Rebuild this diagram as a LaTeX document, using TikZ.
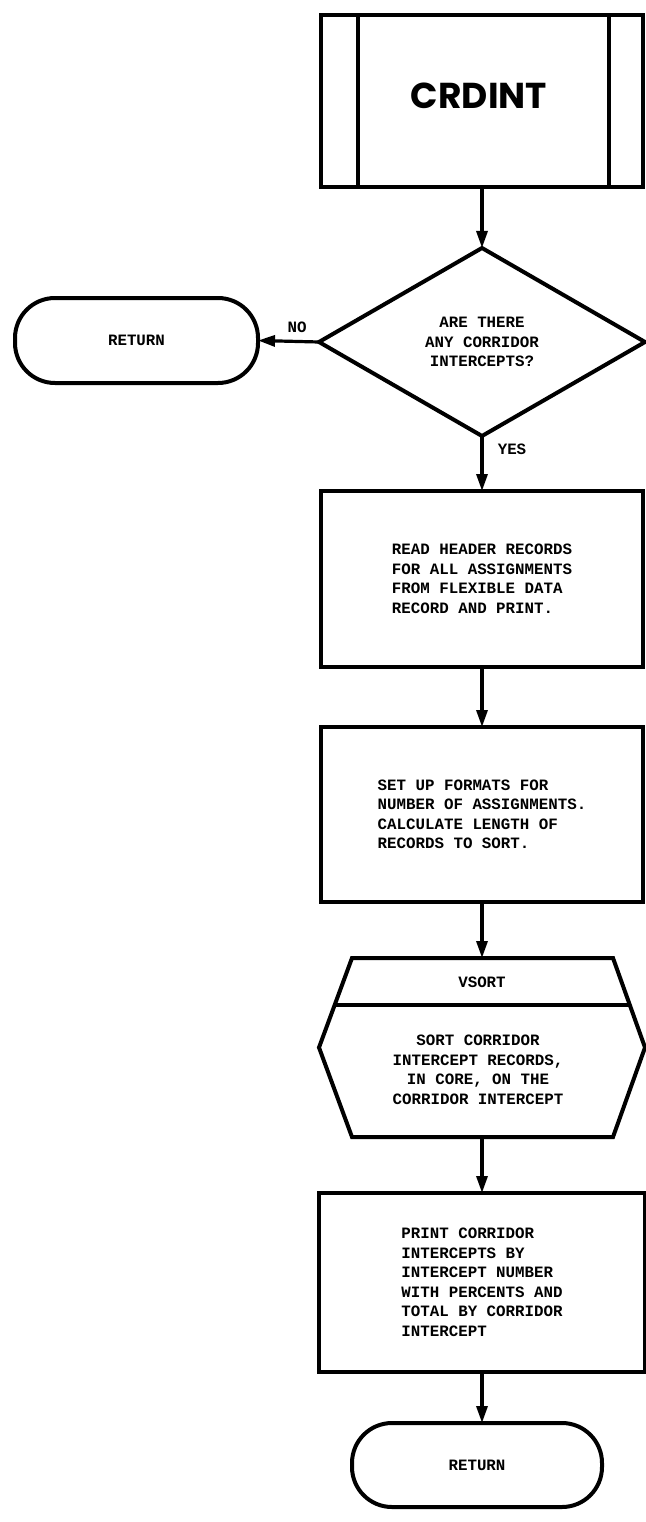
\documentclass[tikz,border=0pt]{standalone}
\usepackage{fontspec}
\setmainfont{Liberation Serif}
\newfontfamily\monob{Liberation Mono}
\newfontfamily\titlefont{Poppins}
\usetikzlibrary{shapes.geometric,arrows.meta}
\tikzset{
  every node/.style={font=\monob\bfseries\fontsize{15.8}{19.5}\selectfont},
  shape line/.style={draw, line width=4pt, outer sep=0pt, inner sep=0pt},
  procbox/.style={shape line, rectangle, align=left},
  terminal/.style={shape line, rectangle, rounded corners=40pt, align=center},
  decision/.style={shape line, diamond, aspect=1.73, align=center},
  ghost/.style={rectangle, inner sep=0pt, outer sep=0pt},
  flow/.style={line width=3.2pt, -{Triangle[length=17pt,width=11pt]}},
  divider/.style={line width=4pt},
  lbl/.style={inner sep=1pt}
}
\begin{document}
\begin{tikzpicture}[x=1pt,y=-1pt]
\useasboundingbox (0,0) rectangle (645,1522);

% CRDINT predefined-process box
\node[procbox, minimum width=322pt, minimum height=172pt] (crd) at (482,101) {};
\draw[divider] ([xshift=37pt]crd.north west) -- ([xshift=37pt]crd.south west);
\draw[divider] ([xshift=-34pt]crd.north east) -- ([xshift=-34pt]crd.south east);
\node[font=\titlefont\bfseries\fontsize{36}{40}\selectfont] (title) at (479,96) {CRDINT};

% decision
\node[decision, minimum width=326pt, minimum height=188pt] (dia) at (482,342)
  {ARE THERE\\ANY CORRIDOR\\INTERCEPTS?};

% top RETURN
\node[terminal, minimum width=243pt, minimum height=85pt] (ret1) at (136.5,340.5) {RETURN};

% process boxes
\node[procbox, minimum width=322pt, minimum height=176pt] (box1) at (482,579)
  {READ HEADER RECORDS\\FOR ALL ASSIGNMENTS\\FROM FLEXIBLE DATA\\RECORD AND PRINT.};
\node[procbox, minimum width=322pt, minimum height=175pt] (box2) at (482,814.5)
  {SET UP FORMATS FOR\\NUMBER OF ASSIGNMENTS.\\CALCULATE LENGTH OF\\RECORDS TO SORT.};

% VSORT hexagon
\node[ghost, minimum width=326pt, minimum height=179pt] (hex) at (482,1047.5) {};
\draw[shape line, line join=miter]
  ([xshift=33pt]hex.north west) -- ([xshift=-32pt]hex.north east) -- (hex.east)
  -- ([xshift=-32pt]hex.south east) -- ([xshift=33pt]hex.south west) -- (hex.west) -- cycle;
\draw[divider] ([xshift=16pt,yshift=-47pt]hex.north west) -- ([xshift=-15pt,yshift=-47pt]hex.north east);
\node (vsort) at (482,982) {VSORT};
\node[align=center] (hexbody) at (478,1070)
  {SORT CORRIDOR\\INTERCEPT RECORDS,\\IN CORE, ON THE\\CORRIDOR INTERCEPT};

\node[procbox, minimum width=326pt, minimum height=179pt] (box3) at (482,1282.5)
  {PRINT CORRIDOR\\INTERCEPTS BY\\INTERCEPT NUMBER\\WITH PERCENTS AND\\TOTAL BY CORRIDOR\\INTERCEPT};

% bottom RETURN
\node[terminal, minimum width=250pt, minimum height=84pt] (ret2) at (477,1465) {RETURN};

% connectors
\draw[flow] (crd) -- (dia);
\draw[flow] (dia.west) -- (ret1.east);
\draw[flow] (dia) -- (box1);
\draw[flow] (box1) -- (box2);
\draw[flow] (box2.south) -- (hex.north);
\draw[flow] (hex.south) -- (box3.north);
\draw[flow] (box3.south) -- (box3.south |- ret2.north);

% labels
\node[lbl] (nolbl) at (297,327) {NO};
\node[lbl] (yeslbl) at (512,449) {YES};
\end{tikzpicture}
\end{document}
